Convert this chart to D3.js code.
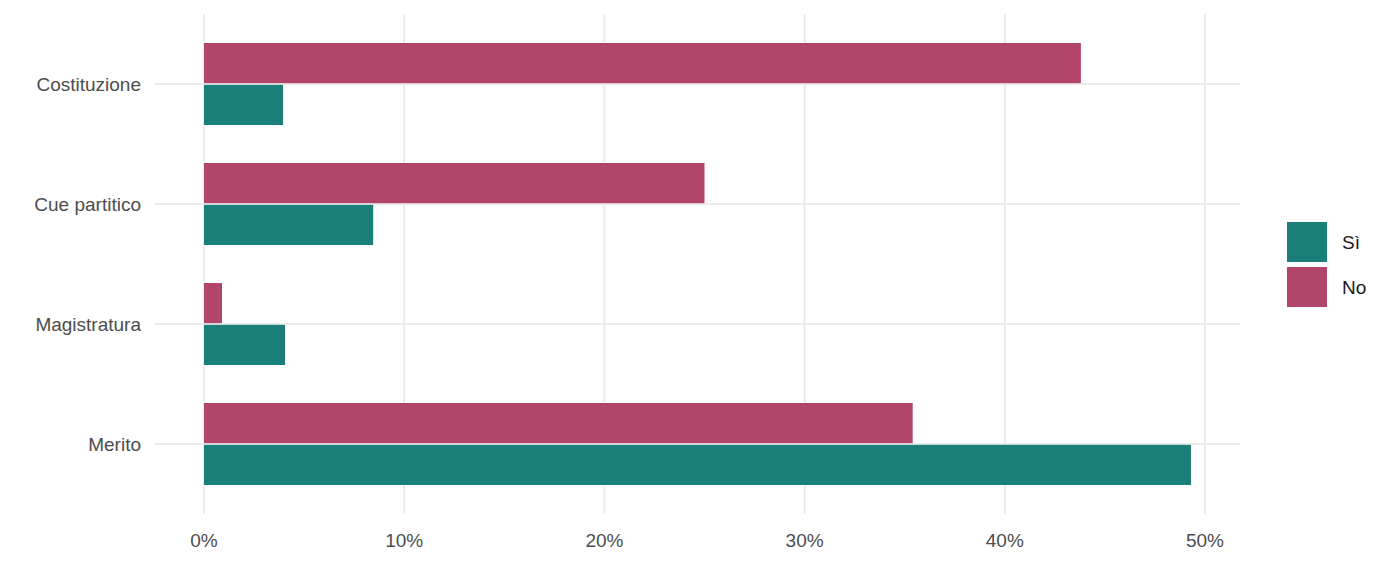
<!DOCTYPE html>
<html><head><meta charset="utf-8">
<script src="https://cdn.jsdelivr.net/npm/d3@7"></script>
<style>body{margin:0;background:#fff}text{font-family:"Liberation Sans",Arial,sans-serif}</style>
</head><body><svg></svg>
<script>
const width = 1400, height = 564;
const categories = ["Costituzione", "Cue partitico", "Magistratura", "Merito"];
const valuesSi = [3.95, 8.45, 4.05, 49.3];
const valuesNo = [43.8, 25.0, 0.9, 35.4];
const xTicks = [0, 10, 20, 30, 40, 50];
const colors = {"Sì": "#1b7f79", "No": "#b2466a"};

const svg = d3.select("svg").attr("width", width).attr("height", height);

const x = d3.scaleLinear().domain([0, 50]).range([204, 1205]);
const y = d3.scaleBand().domain(categories).range([24, 504]);
const sub = d3.scaleBand().domain(["No", "Sì"]).range([y.bandwidth()/2 - 41, y.bandwidth()/2 + 41]).paddingInner(0.04);

// gridlines
svg.selectAll(".vg").data(xTicks).enter().append("line")
    .attr("x1", d => x(d)).attr("x2", d => x(d))
    .attr("y1", 14).attr("y2", 514)
    .attr("stroke", "#ebebeb").attr("stroke-width", 2);
svg.selectAll(".hg").data(categories).enter().append("line")
    .attr("x1", 155).attr("x2", 1240)
    .attr("y1", d => y(d) + y.bandwidth()/2).attr("y2", d => y(d) + y.bandwidth()/2)
    .attr("stroke", "#ebebeb").attr("stroke-width", 2);

const rows = categories.map((c, i) => ({c, si: valuesSi[i], no: valuesNo[i]}));
const g = svg.selectAll(".row").data(rows).enter().append("g")
    .attr("transform", d => `translate(0,${y(d.c)})`);
g.append("rect").attr("x", x(0)).attr("y", sub("No"))
    .attr("width", d => x(d.no) - x(0)).attr("height", sub.bandwidth()).attr("fill", colors["No"]);
g.append("rect").attr("x", x(0)).attr("y", sub("Sì"))
    .attr("width", d => x(d.si) - x(0)).attr("height", sub.bandwidth()).attr("fill", colors["Sì"]);

// labels
svg.selectAll(".yl").data(categories).enter().append("text")
    .attr("x", 141).attr("y", d => y(d) + y.bandwidth()/2).attr("dy", "0.35em")
    .attr("text-anchor", "end").attr("font-size", 19).attr("fill", "#4d4d4d").text(d => d);
svg.selectAll(".xl").data(xTicks).enter().append("text")
    .attr("x", d => x(d)).attr("y", 547).attr("text-anchor", "middle")
    .attr("font-size", 19).attr("fill", "#4d4d4d").text(d => d + "%");

// legend
const legend = ["Sì", "No"];
const lg = svg.selectAll(".lg").data(legend).enter().append("g")
    .attr("transform", (d, i) => `translate(1287,${222 + i * 45})`);
lg.append("rect").attr("width", 40).attr("height", 40).attr("fill", d => colors[d]);
lg.append("text").attr("x", 55).attr("y", 20).attr("dy", "0.35em")
    .attr("font-size", 19).attr("fill", "#1a1a1a").text(d => d);
</script></body></html>
